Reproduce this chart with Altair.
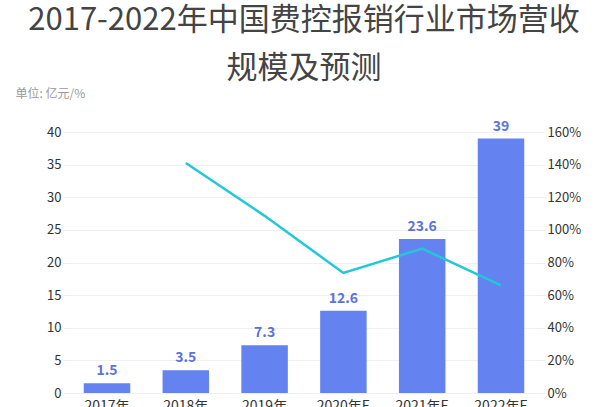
import altair as alt
import pandas as pd

years = ["2017年", "2018年", "2019年", "2020年E", "2021年E", "2022年E"]
revenue = [1.5, 3.5, 7.3, 12.6, 23.6, 39]
growth = [None, 141, 108.6, 73.6, 88.5, 66]

df = pd.DataFrame({"year": years, "revenue": revenue, "growth": growth})
FONT = "Noto Sans CJK SC"

x = alt.X("year:N", sort=years, title=None,
          scale=alt.Scale(paddingInner=0.41, paddingOuter=0.2),
          axis=alt.Axis(labelAngle=0, labelFontSize=14, labelColor="#333",
                        labelPadding=6, domain=False, ticks=False))

yl = alt.Y("revenue:Q", scale=alt.Scale(domain=[0, 40]),
           axis=alt.Axis(values=list(range(0, 41, 5)), title="单位: 亿元/%",
                         titleAngle=0, titleX=-53, titleY=-32, titleAlign="left",
                         titleFontSize=12, titleFontWeight="normal", titleColor="#999",
                         labelFontSize=13, labelColor="#333", domain=False,
                         tickColor="#eee", tickSize=5, gridColor="#f0f0f0"))

bars = alt.Chart(df).mark_bar(color="#6482f0").encode(x=x, y=yl)
labels = alt.Chart(df).mark_text(dy=-12, fontSize=14, fontWeight="bold",
                                 color="#5b73d9", font=FONT).encode(
    x=x, y=yl, text=alt.Text("revenue:Q"),
)
line = alt.Chart(df).transform_filter("datum.growth != null").mark_line(
    color="#22c8d8", strokeWidth=2.5).encode(
    x=x,
    y=alt.Y("growth:Q", scale=alt.Scale(domain=[0, 160]),
            axis=alt.Axis(values=list(range(0, 161, 20)), orient="right", title=None,
                          labelExpr="datum.value + '%'", labelFontSize=13,
                          labelColor="#333", domain=False, grid=False,
                          tickColor="#eee", tickSize=5)),
)

left = alt.layer(bars, labels)
chart = alt.layer(left, line).resolve_scale(y="independent").properties(
    width=472, height=261,
    title=alt.Title(["2017-2022年中国费控报销行业市场营收", "规模及预测"],
                    fontSize=31, font=FONT, fontWeight="normal", color="#444",
                    anchor="middle", lineHeight=48, offset=2),
    autosize=alt.AutoSizeParams(type="none"),
    padding={"left": 68, "top": 132, "right": 60, "bottom": 14},
).configure(font=FONT).configure_view(stroke=None)

chart.save("out.html", embed_options={"renderer": "svg", "actions": False})
